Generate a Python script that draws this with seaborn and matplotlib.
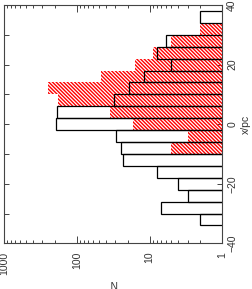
import matplotlib
matplotlib.use("Agg")
import matplotlib.pyplot as plt
import numpy as np
import pandas as pd
import seaborn as sns
from matplotlib.ticker import MultipleLocator, FixedLocator, FuncFormatter, LogLocator, NullFormatter

# ---- data (bins of x/pc, ascending) ----
bin_edges = [-34, -30, -26, -22, -18, -14, -10, -6, -2, 2, 6, 10, 14, 18, 22, 26, 30, 34, 38]
bin_centers = [-32, -28, -24, -20, -16, -12, -8, -4, 0, 4, 8, 12, 16, 20, 24, 28, 32, 36]
counts_black = [2, 7, 3, 4, 8, 23, 25, 29, 191, 185, 31, 19, 12, 5, 8, 6, 0, 2]
counts_red = [0, 0, 0, 0, 1, 1, 5, 3, 17, 35, 180, 246, 46, 16, 9, 5, 2, 0]
n_ticks = [1, 10, 100, 1000]
x_ticks = [-40, -20, 0, 20, 40]

sns.set_style("ticks")
plt.rcParams["font.family"] = ["Liberation Sans", "DejaVu Sans"]
plt.rcParams["hatch.linewidth"] = 1.0

df = pd.DataFrame({"x": bin_centers, "black": counts_black, "red": counts_red})

fig = plt.figure(figsize=(2.52, 2.89), dpi=100)
W, H = 252, 289
ax = fig.add_axes([4 / W, (H - 243.3) / H, (222.3 - 4) / W, (243.3 - 5) / H])

sns.histplot(data=df, y="x", weights="red", bins=bin_edges, fill=False,
             color="red", linewidth=0, hatch="\\" * 9, ax=ax)
sns.histplot(data=df, y="x", weights="black", bins=bin_edges, fill=False,
             color="black", linewidth=0.9, ax=ax)

ax.set_xscale("log")
ax.set_xlim(1000, 1)
ax.set_ylim(-40, 40)

ax.xaxis.set_major_locator(FixedLocator(n_ticks))
ax.xaxis.set_major_formatter(FuncFormatter(lambda v, p: f"{v:g}"))
ax.xaxis.set_minor_locator(LogLocator(base=10, subs=np.arange(2, 10)))
ax.xaxis.set_minor_formatter(NullFormatter())
ax.yaxis.set_major_locator(FixedLocator(x_ticks))
ax.yaxis.set_minor_locator(MultipleLocator(10))

txtc = "#333333"
ax.tick_params(which="both", direction="in", top=True, bottom=True, left=True, right=True,
               labelleft=False, labelright=True, labelbottom=True, labeltop=False,
               colors="#444444", labelcolor=txtc, labelsize=7.5, width=0.7)
ax.tick_params(axis="x", which="major", length=5, labelrotation=90, pad=6)
ax.tick_params(axis="x", which="minor", length=2.5)
ax.tick_params(axis="y", which="both", length=3.5, labelrotation=90, pad=3.5)
for lab in ax.get_yticklabels():
    lab.set_verticalalignment("center")

for s in ax.spines.values():
    s.set_color("#444444")
    s.set_linewidth(0.8)
    s.set_visible(True)

ax.yaxis.set_label_position("right")
ax.set_ylabel("x/pc", rotation=90, fontsize=7.5, color=txtc, labelpad=3)
ax.set_xlabel("N", rotation=180, fontsize=7.5, color=txtc, labelpad=2)

fig.savefig("out.png", dpi=100)
